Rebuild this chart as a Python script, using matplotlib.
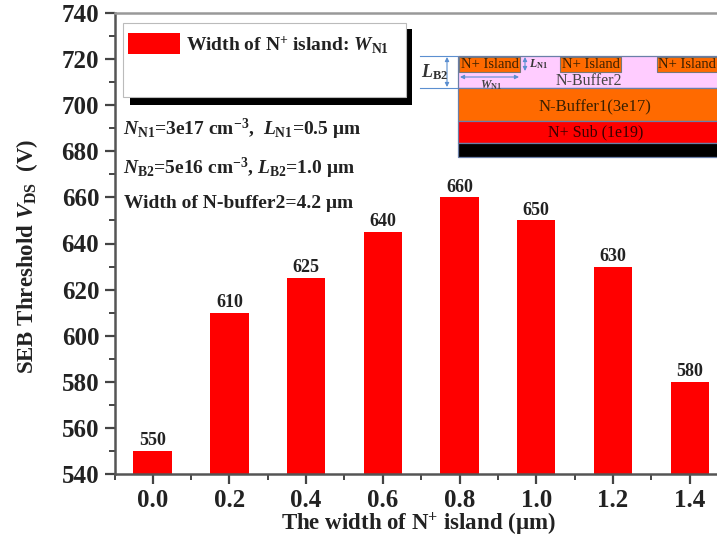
import matplotlib
matplotlib.use('Agg')
import matplotlib.pyplot as plt
from matplotlib.patches import Rectangle

plt.rcParams['font.family'] = ['Liberation Serif', 'DejaVu Serif']
plt.rcParams['font.weight'] = 'bold'
plt.rcParams['mathtext.fontset'] = 'custom'
plt.rcParams['mathtext.rm'] = 'Liberation Serif:bold'
plt.rcParams['mathtext.it'] = 'Liberation Serif:italic:bold'
plt.rcParams['mathtext.bf'] = 'Liberation Serif:bold'

widths = [0.0, 0.2, 0.4, 0.6, 0.8, 1.0, 1.2, 1.4]
threshold = [550, 610, 625, 645, 660, 650, 630, 580]
bar_labels = ['550', '610', '625', '640', '660', '650', '630', '580']
x_ticklabels = ['0.0', '0.2', '0.4', '0.6', '0.8', '1.0', '1.2', '1.4']
y_ticks = list(range(540, 741, 20))

W, H = 717, 537
fig = plt.figure(figsize=(W / 100, H / 100), dpi=100)
ax = fig.add_axes([114.5 / W, 1 - 474 / H, (W - 114.5) / W, (474 - 13) / H])

ax.bar(widths, threshold, width=0.1, color='#ff0000', zorder=2)
for x, y, lab in zip(widths, threshold, bar_labels):
    ax.text(x, y + 0.8, lab, ha='center', va='bottom', fontsize=13, color='#222222')

ax.set_xticks(widths)
ax.set_xticklabels(x_ticklabels)
ax.set_xticks([-0.0995] + [w + 0.1 for w in widths[:-1]], minor=True)
ax.set_yticks(y_ticks)
ax.set_yticks(range(550, 740, 20), minor=True)
ax.set_xlim(-0.0995, 1.471)
ax.set_ylim(540, 740)
ax.tick_params(axis='both', which='major', length=7, width=1.6, color='#444444',
               labelsize=18, labelcolor='#222222')
ax.tick_params(axis='both', which='minor', length=4, width=1.4, color='#444444')
ax.tick_params(axis='x', which='major', pad=4)
ax.tick_params(axis='y', which='major', pad=4)
for side in ['left', 'bottom', 'top']:
    ax.spines[side].set_linewidth(1.8)
    ax.spines[side].set_color('#555555')
ax.spines['top'].set_color('#999999')
ax.spines['right'].set_visible(False)

fig.text(281 / W, 1 - 524 / H, r'The width of N$^{+}$ island ($\mathrm{\mu}$m)', ha='left', va='center',
         fontsize=16.5, color='#222222')
fig.text(27 / W, 1 - 256 / H, r'SEB Threshold $V_{\mathrm{DS}}$  (V)', rotation=90,
         ha='center', va='center', fontsize=16.5, color='#222222')

# overlay in pixel coordinates for the legend box and the device sketch
ov = fig.add_axes([0, 0, 1, 1], facecolor='none')
ov.set_xlim(0, W)
ov.set_ylim(H, 0)
ov.axis('off')

# legend box with its shadow
ov.add_patch(Rectangle((130, 29), 282, 76, fc='black', ec='none'))
ov.add_patch(Rectangle((123, 23), 283, 74, fc='white', ec='#bbbbbb', lw=0.8))
ov.add_patch(Rectangle((128, 33), 52, 21, fc='#ff0000', ec='none'))
ov.text(186, 45, r'Width of N$^{+}$ island: $\mathit{W}_{\mathrm{N1}}$', fontsize=14,
        va='center', color='#222222')

ov.text(123, 129, r'$\mathit{N}_{\mathrm{N1}}$=3e17 cm$^{-3}$,  $\mathit{L}_{\mathrm{N1}}$=0.5 $\mathrm{\mu}$m',
        fontsize=14, va='center', color='#222222')
ov.text(123, 168, r'$\mathit{N}_{\mathrm{B2}}$=5e16 cm$^{-3}$, $\mathit{L}_{\mathrm{B2}}$=1.0 $\mathrm{\mu}$m',
        fontsize=14, va='center', color='#222222')
ov.text(124, 203, 'Width of N-buffer2=4.2 μm', fontsize=14, va='center', color='#222222')

# device sketch
edge = '#6a7fa8'
ov.add_patch(Rectangle((457.5, 56), 260, 32, fc='#ffccff', ec=edge, lw=0.9))
ov.add_patch(Rectangle((457.5, 88), 260, 33, fc='#ff6a00', ec=edge, lw=0.9))
ov.add_patch(Rectangle((457.5, 121), 260, 22, fc='#ff0000', ec=edge, lw=0.9))
ov.add_patch(Rectangle((457.5, 143), 260, 14, fc='black', ec=edge, lw=0.9))
for left, right in [(459, 520), (560, 621), (657, 717)]:
    ov.add_patch(Rectangle((left, 57), right - left, 15, fc='#ff6a00', ec='#777777', lw=0.8))
    ov.text((left + right) / 2, 64.5, 'N+ Island', ha='center', va='center',
            fontsize=10.5, fontweight='normal', color='#3a2000')
ov.text(589, 81, 'N-Buffer2', ha='center', va='center', fontsize=11.5, fontweight='normal', color='#444444')
ov.text(595, 107.5, 'N-Buffer1(3e17)', ha='center', va='center', fontsize=12, fontweight='normal', color='#3a2000')
ov.text(596, 132, 'N+ Sub (1e19)', ha='center', va='center', fontsize=11.5, fontweight='normal', color='#3a0000')

blue = '#5b8fd0'
ov.plot([420, 457], [56, 56], color=blue, lw=0.8)
ov.plot([420, 457], [88, 88], color=blue, lw=0.8)
arrow = dict(arrowstyle='<|-|>', color=blue, lw=0.8, mutation_scale=6, shrinkA=0, shrinkB=0)
ov.annotate('', xy=(447, 57), xytext=(447, 87), arrowprops=arrow)
ov.annotate('', xy=(525, 57), xytext=(525, 71), arrowprops=arrow)
ov.annotate('', xy=(460, 77), xytext=(519, 77), arrowprops=arrow)
ov.text(421, 72, r'$\mathit{L}_{\mathrm{B2}}$', fontsize=13, va='center', color='#333333')
ov.text(529, 64, r'$\mathit{L}_{\mathrm{N1}}$', fontsize=8.5, va='center', color='#333333')
ov.text(491, 85, r'$\mathit{W}_{\mathrm{N1}}$', fontsize=8.5, ha='center', va='center', color='#444444')

fig.savefig('out.png', dpi=100)
